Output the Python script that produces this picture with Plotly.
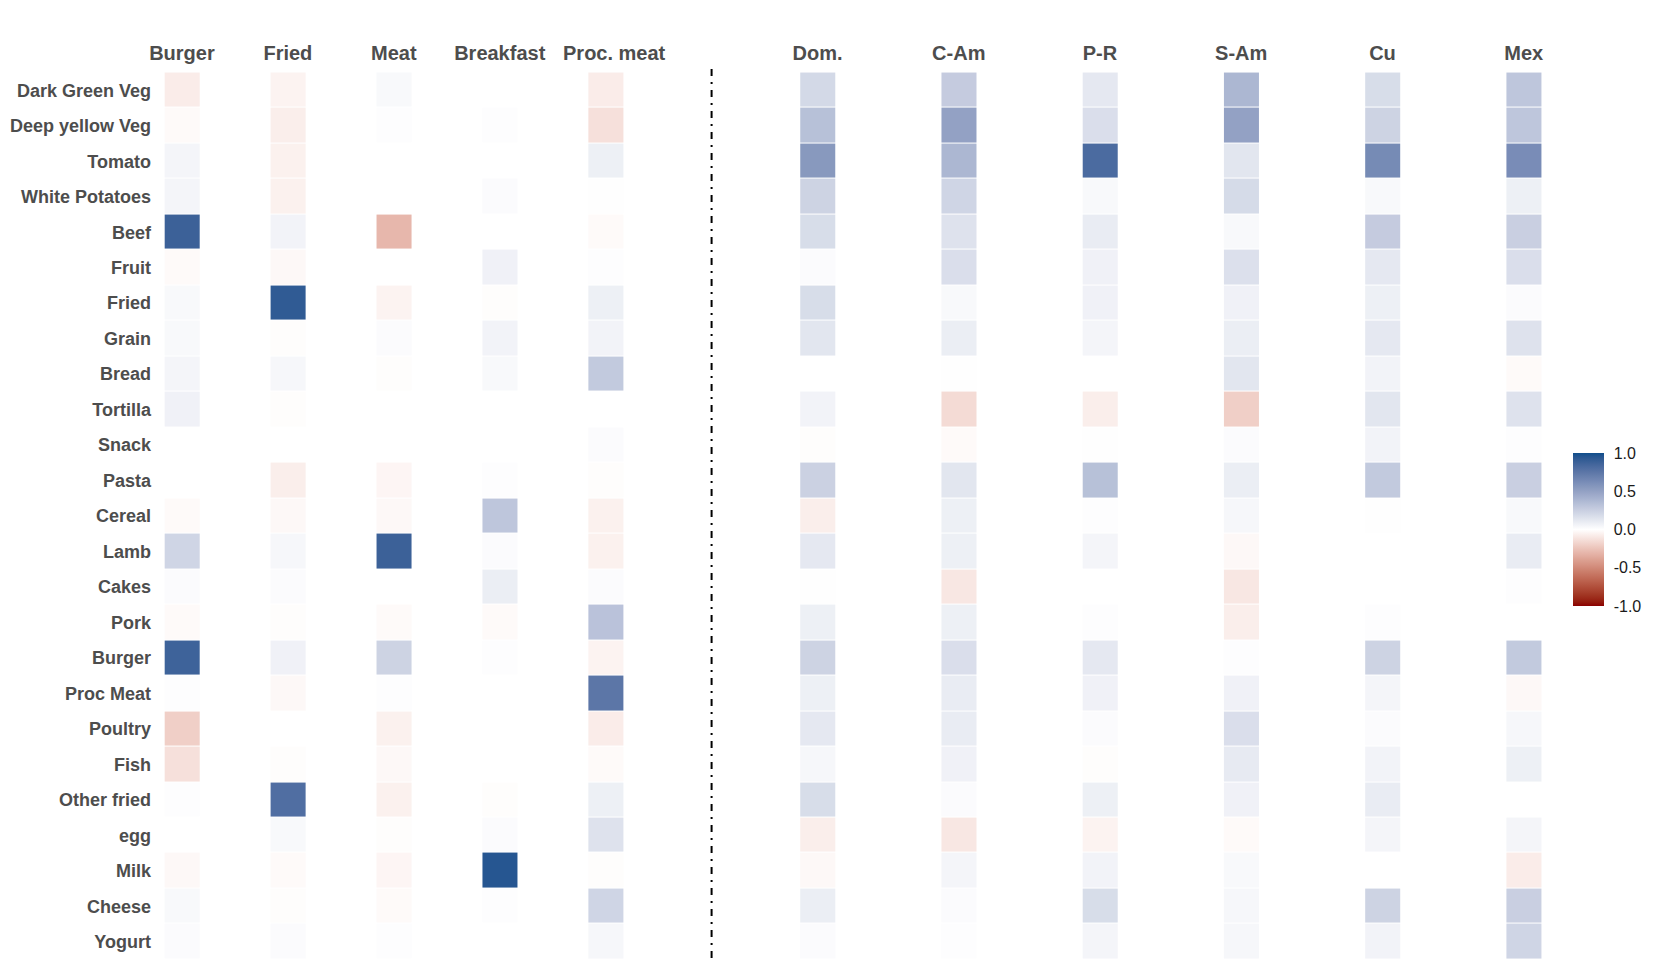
import numpy as np
import plotly.graph_objects as go

# ---------------- data ----------------
rows = ["Dark Green Veg", "Deep yellow Veg", "Tomato", "White Potatoes", "Beef",
        "Fruit", "Fried", "Grain", "Bread", "Tortilla", "Snack", "Pasta", "Cereal",
        "Lamb", "Cakes", "Pork", "Burger", "Proc Meat", "Poultry", "Fish",
        "Other fried", "egg", "Milk", "Cheese", "Yogurt"]

pattern_cols = ["Burger", "Fried", "Meat", "Breakfast", "Proc. meat"]
group_cols = ["Dom.", "C-Am", "P-R", "S-Am", "Cu", "Mex"]

burger = [-0.08, -0.02, 0.05, 0.05, 0.88, -0.02, 0.03, 0.03, 0.05, 0.07, 0.0, 0.0, -0.02,
          0.22, 0.02, -0.02, 0.87, 0.01, -0.20, -0.13, 0.01, 0.0, -0.03, 0.03, 0.02]
fried = [-0.05, -0.07, -0.06, -0.06, 0.06, -0.03, 0.92, -0.01, 0.04, -0.01, 0.0, -0.07, -0.03,
         0.04, 0.02, -0.01, 0.07, -0.03, 0.0, -0.01, 0.80, 0.03, -0.02, -0.01, 0.02]
meat = [0.03, 0.01, 0.0, 0.0, -0.30, 0.0, -0.05, 0.02, -0.01, 0.0, 0.0, -0.04, -0.03,
        0.88, 0.0, -0.02, 0.23, 0.01, -0.06, -0.03, -0.06, -0.01, -0.04, -0.02, 0.01]
breakfast = [0.0, 0.01, 0.0, 0.02, 0.0, 0.07, -0.01, 0.06, 0.03, 0.0, 0.0, 0.01, 0.30,
             0.02, 0.09, -0.02, 0.01, 0.0, 0.0, 0.0, -0.01, 0.02, 0.95, 0.01, 0.0]
proc_meat = [-0.08, -0.13, 0.08, 0.005, -0.02, 0.01, 0.08, 0.06, 0.28, 0.0, 0.02, -0.01, -0.06,
             -0.06, 0.02, 0.32, -0.05, 0.75, -0.08, -0.02, 0.08, 0.15, -0.01, 0.22, 0.04]

dom = [0.20, 0.33, 0.55, 0.23, 0.18, 0.02, 0.18, 0.13, 0.0, 0.06, -0.01, 0.24, -0.07,
       0.12, 0.005, 0.08, 0.23, 0.08, 0.12, 0.04, 0.18, -0.07, -0.03, 0.09, 0.02]
c_am = [0.27, 0.50, 0.38, 0.22, 0.15, 0.17, 0.03, 0.09, 0.005, -0.15, -0.02, 0.13, 0.08,
        0.08, -0.10, 0.08, 0.17, 0.10, 0.10, 0.07, 0.02, -0.10, 0.05, 0.02, 0.01]
p_r = [0.12, 0.17, 0.82, 0.03, 0.10, 0.07, 0.07, 0.05, 0.0, -0.07, 0.005, 0.33, 0.01,
       0.05, 0.0, 0.01, 0.12, 0.07, 0.02, -0.01, 0.08, -0.05, 0.06, 0.18, 0.05]
s_am = [0.38, 0.50, 0.13, 0.19, 0.03, 0.16, 0.07, 0.09, 0.13, -0.20, 0.02, 0.09, 0.04,
        -0.03, -0.10, -0.07, 0.01, 0.07, 0.17, 0.11, 0.07, -0.02, 0.03, 0.04, 0.04]
cu = [0.18, 0.23, 0.63, 0.03, 0.27, 0.12, 0.08, 0.12, 0.06, 0.13, 0.06, 0.28, 0.005,
      0.0, 0.0, 0.01, 0.23, 0.05, 0.02, 0.06, 0.10, 0.05, 0.0, 0.23, 0.06]
mex = [0.30, 0.30, 0.62, 0.08, 0.25, 0.17, 0.02, 0.15, -0.02, 0.15, 0.01, 0.25, 0.03,
       0.10, 0.01, 0.0, 0.28, -0.03, 0.04, 0.08, 0.0, 0.05, -0.08, 0.25, 0.22]

colorbar_ticks = [-1.0, -0.5, 0.0, 0.5, 1.0]
colorbar_labels = ["-1.0", "-0.5", "0.0", "0.5", "1.0"]

pattern_values = [burger, fried, meat, breakfast, proc_meat]
group_values = [dom, c_am, p_r, s_am, cu, mex]

# ---------------- colour scale (Lab interpolation, darkred - white - dodgerblue4) ----------------
def _hex_to_rgb(h):
    h = h.lstrip("#")
    return np.array([int(h[i:i + 2], 16) for i in (0, 2, 4)], dtype=float)

_M = np.array([[0.4124564, 0.3575761, 0.1804375],
               [0.2126729, 0.7151522, 0.0721750],
               [0.0193339, 0.1191920, 0.9503041]])
_WP = np.array([0.95047, 1.0, 1.08883])

def rgb_to_lab(rgb):
    c = rgb / 255.0
    c = np.where(c <= 0.04045, c / 12.92, ((c + 0.055) / 1.055) ** 2.4)
    xyz = _M @ c / _WP
    f = np.where(xyz > (6 / 29) ** 3, np.cbrt(xyz), xyz / (3 * (6 / 29) ** 2) + 4 / 29)
    return np.array([116 * f[1] - 16, 500 * (f[0] - f[1]), 200 * (f[1] - f[2])])

def lab_to_rgb(lab):
    fy = (lab[0] + 16) / 116
    fx = fy + lab[1] / 500
    fz = fy - lab[2] / 200
    f = np.array([fx, fy, fz])
    xyz = np.where(f > 6 / 29, f ** 3, 3 * (6 / 29) ** 2 * (f - 4 / 29)) * _WP
    c = np.linalg.inv(_M) @ xyz
    c = np.clip(c, 0, 1)
    c = np.where(c <= 0.0031308, 12.92 * c, 1.055 * c ** (1 / 2.4) - 0.055)
    return np.clip(np.round(c * 255), 0, 255).astype(int)

low_lab = rgb_to_lab(_hex_to_rgb("#8B0000"))
mid_lab = rgb_to_lab(_hex_to_rgb("#FFFFFF"))
high_lab = rgb_to_lab(_hex_to_rgb("#104E8B"))

colorscale = []
for t in np.linspace(0, 1, 41):
    if t <= 0.5:
        f = t / 0.5
        lab = low_lab + (mid_lab - low_lab) * f
    else:
        f = (t - 0.5) / 0.5
        lab = mid_lab + (high_lab - mid_lab) * f
    r, g, b = lab_to_rgb(lab)
    colorscale.append([float(t), f"rgb({r},{g},{b})"])

# ---------------- layout positions ----------------
left_pos = [float(i) for i in range(len(pattern_cols))]
right_start = len(pattern_cols) + 1.0
right_step = 4.0 / 3.0
right_pos = [right_start + i * right_step for i in range(len(group_cols))]
sep_x = (left_pos[-1] + right_pos[0]) / 2.0
half_w = 0.163

all_pos = left_pos + right_pos
all_names = pattern_cols + group_cols
all_vals = pattern_values + group_values

# header label positions (last pattern label sits slightly right of its column)
label_pos = list(all_pos)
label_pos[len(pattern_cols) - 1] += 0.08

y_idx = list(range(len(rows)))

fig = go.Figure()
for pos, vals in zip(all_pos, all_vals):
    fig.add_trace(go.Heatmap(
        x=[pos - half_w, pos + half_w],
        y=y_idx,
        z=[[v] for v in vals],
        coloraxis="coloraxis",
        ygap=1,
        xgap=0,
        hovertemplate="%{z:.2f}<extra></extra>",
    ))

fig.add_shape(type="line", xref="x", yref="paper", x0=sep_x, x1=sep_x, y0=1, y1=0,
              line=dict(color="black", width=2, dash="7px,6px,2px,6px"))

label_font = dict(family="Liberation Sans, Arial, sans-serif", color="#4D4D4D", weight="bold")

fig.update_layout(
    width=1661, height=973,
    margin=dict(l=148, r=110, t=61, b=18, autoexpand=False),
    paper_bgcolor="white", plot_bgcolor="white",
    font=dict(family="Liberation Sans, Arial, sans-serif"),
    showlegend=False,
    coloraxis=dict(
        colorscale=colorscale, cmin=-1, cmax=1,
        colorbar=dict(
            x=1.01, xanchor="left", xpad=0,
            y=0.485, yanchor="middle", ypad=0,
            lenmode="pixels", len=153, thickness=31,
            outlinewidth=0,
            tickmode="array", tickvals=colorbar_ticks, ticktext=colorbar_labels,
            ticks="outside", ticklen=7, tickcolor="white", tickwidth=1,
            tickfont=dict(size=16, color="#1A1A1A", family="Liberation Sans, Arial, sans-serif"),
        ),
    ),
    xaxis=dict(
        range=[-0.245, 13.0], side="top",
        tickvals=label_pos, ticktext=all_names,
        tickfont=dict(size=20, **label_font),
        showgrid=False, zeroline=False, showline=False, ticks="",
        ticklabelstandoff=4, automargin=False,
    ),
    yaxis=dict(
        range=[len(rows) - 1 + 0.6, -0.6],
        tickvals=y_idx, ticktext=rows,
        tickfont=dict(size=18, **label_font),
        showgrid=False, zeroline=False, showline=False, ticks="",
        ticklabelstandoff=4, automargin=False,
    ),
)

fig.write_html("out.html")
